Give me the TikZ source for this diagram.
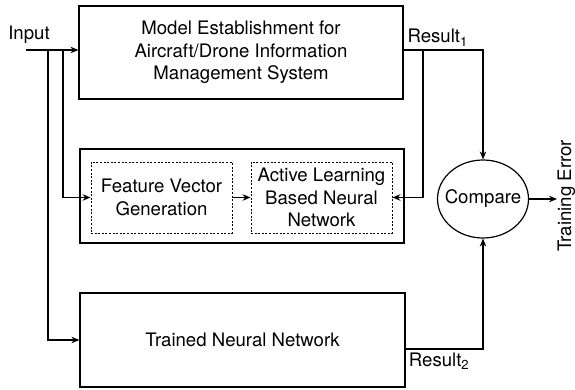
\documentclass[tikz,border=0pt]{standalone}
\usepackage{fontspec}
\setmainfont{TeX Gyre Heros}
\usetikzlibrary{arrows.meta,positioning,shapes.geometric}

\begin{document}
\begin{tikzpicture}[x=1pt, y=-1pt, line width=1.2pt, >={Stealth[length=8pt,width=6.5pt]},
      every node/.append style={font=\fontsize{18.6}{22.5}\selectfont, align=center}]
  \tikzstyle{block} = [draw, rectangle, inner sep=0pt]
  \tikzstyle{subblock} = [draw, line width=0.9pt, dash pattern=on 2pt off 1.6pt,
                          rectangle, inner sep=0pt, minimum width=141, minimum height=71]
  \useasboundingbox (0,0) rectangle (575,390);

  % blocks
  \node (model) [block, minimum width=324, minimum height=93] at (241,52.5)
    {Model Establishment for\\Aircraft/Drone Information\\Management System};
  \node (learner) [block, minimum width=324, minimum height=94] at (242,196) {};
  \node (feat) [subblock] at (161.5,197.5) {Feature Vector\\Generation};
  \node (active) [subblock] at (321.5,197.5) {Active Learning\\Based Neural\\Network};
  \node (trained) [block, minimum width=325, minimum height=94] at (242.5,340)
    {Trained Neural Network};
  \node (cmp) [draw, ellipse, minimum width=91, minimum height=78,
               inner xsep=-6.5pt, inner ysep=0pt] at (483,199) {Compare};
  \node (err) [rotate=90, anchor=north, inner sep=0pt] at (557,196) {Training Error};

  % input side
  \node (input) at (29,35) {Input};
  \coordinate (in) at (26,50);
  \coordinate (s1) at (63,50);
  \coordinate (s2) at (48,50);
  \draw[->] (in) -- (in -| model.west);
  \draw[->] (s1) |- (feat.west);
  \draw[->] (s2) |- (trained.west);
  \draw[->] (feat) -- (active);

  % results
  \coordinate (r1) at (model.east |- in);
  \coordinate (b1) at (423,50);
  \coordinate (r2) at (405,349);
  \draw[->] (r1) -| node[pos=0, above right] {Result\textsubscript{1}} (cmp.north);
  \draw[->] (b1) |- (active.east);
  \draw[->] (r2) -| node[pos=0, below right] {Result\textsubscript{2}} (cmp.south);
  \draw[->] (cmp.east) -- (cmp.east -| err.north);
\end{tikzpicture}
\end{document}
